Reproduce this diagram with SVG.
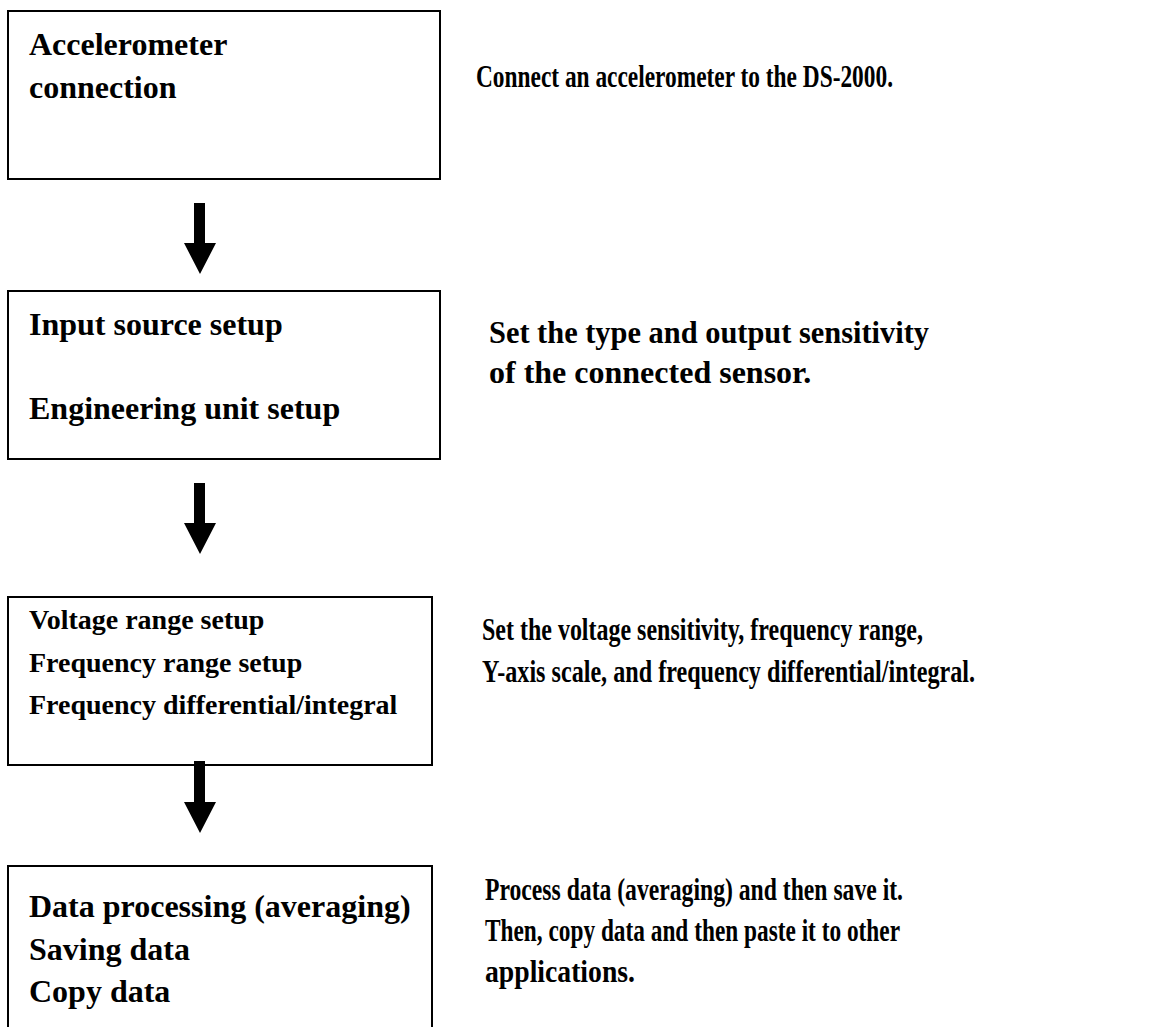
<svg xmlns="http://www.w3.org/2000/svg" width="1154" height="1027" viewBox="0 0 1154 1027">
<style>
.box{fill:#fff;stroke:#000;stroke-width:2}
.t{font-family:"Liberation Serif","Times New Roman",serif;font-weight:bold;font-size:32px;fill:#000}
.s{font-size:28px}
.arr{fill:#000}
</style>
<rect width="1154" height="1027" fill="#fff"/>
<g id="node1">
<rect class="box" x="8" y="11" width="432" height="168"/>
<text class="t" x="29" y="55">Accelerometer</text>
<text class="t" x="29" y="98">connection</text>
</g>
<g id="node2">
<rect class="box" x="8" y="291" width="432" height="168"/>
<text class="t" x="29" y="335">Input source setup</text>
<text class="t" x="29" y="419">Engineering unit setup</text>
</g>
<g id="node3">
<rect class="box" x="8" y="597" width="424" height="168"/>
<text class="t s" x="29" y="629">Voltage range setup</text>
<text class="t s" x="29" y="672">Frequency range setup</text>
<text class="t s" x="29" y="714">Frequency differential/integral</text>
</g>
<g id="node4">
<rect class="box" x="8" y="866" width="424" height="200"/>
<text class="t" x="29" y="917">Data processing (averaging)</text>
<text class="t" x="29" y="960">Saving data</text>
<text class="t" x="29" y="1002">Copy data</text>
</g>
<g id="desc1">
<text class="t" x="476" y="87" textLength="417" lengthAdjust="spacingAndGlyphs">Connect an accelerometer to the DS-2000.</text>
</g>
<g id="desc2">
<text class="t" x="489" y="343" textLength="440" lengthAdjust="spacingAndGlyphs">Set the type and output sensitivity</text>
<text class="t" x="489" y="383">of the connected sensor.</text>
</g>
<g id="desc3">
<text class="t" x="482" y="640" textLength="441" lengthAdjust="spacingAndGlyphs">Set the voltage sensitivity, frequency range,</text>
<text class="t" x="482" y="682" textLength="493" lengthAdjust="spacingAndGlyphs">Y-axis scale, and frequency differential/integral.</text>
</g>
<g id="desc4">
<text class="t" x="485" y="900" textLength="418" lengthAdjust="spacingAndGlyphs">Process data (averaging) and then save it.</text>
<text class="t" x="485" y="941" textLength="415" lengthAdjust="spacingAndGlyphs">Then, copy data and then paste it to other</text>
<text class="t" x="485" y="982" textLength="150" lengthAdjust="spacingAndGlyphs">applications.</text>
</g>
<g id="connectors">
<polygon class="arr" points="194,203 205,203 205,243 216,243 200,274 184,243 194,243"/>
<polygon class="arr" points="194,483 205,483 205,523 216,523 200,554 184,523 194,523"/>
<polygon class="arr" points="194,761 205,761 205,802 216,802 200,833 184,802 194,802"/>
</g>
</svg>
